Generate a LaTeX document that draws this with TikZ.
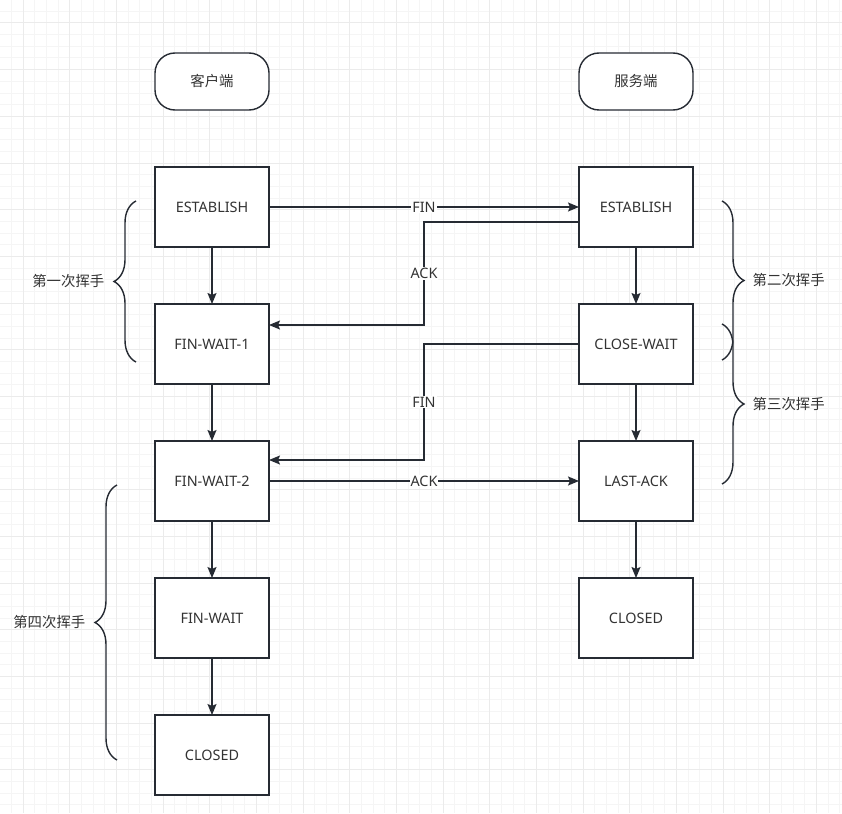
\documentclass[tikz,border=0pt]{standalone}
\usepackage{fontspec}
\setmainfont{Noto Sans}
\newfontfamily\cjk{Noto Sans CJK SC}
\usepackage{xcolor}
\usepackage{tikz}
\usetikzlibrary{arrows.meta,positioning,decorations.pathreplacing}

\definecolor{linec}{HTML}{262B33}
\definecolor{txtc}{HTML}{333333}

\begin{document}
\begin{tikzpicture}[
    x=1pt, y=-1pt,
    font=\fontsize{14.4}{17}\selectfont,
    node distance=57pt and 310pt,
    state/.style={draw=linec, line width=1.4pt, fill=white, minimum width=114pt, minimum height=80pt, inner sep=0pt, outer sep=0pt, text=txtc},
    side/.style={state, rounded corners=20pt, minimum height=57pt, font=\fontsize{14.4}{17}\selectfont\cjk},
    arrow/.style={-{Stealth[length=11pt, width=9pt, inset=2pt]}, draw=linec, line width=1.4pt},
    msg/.style={fill=white, inner sep=1pt, text=txtc},
    brace/.style={decorate, decoration={brace, amplitude=22pt}, draw=linec, line width=1.4pt},
    hs/.style={font=\fontsize{14.4}{17}\selectfont\cjk, text=txtc, inner sep=0pt},
    minorgrid/.style={draw=gray!8, line width=1pt},
    majorgrid/.style={draw=gray!16, line width=1pt}
  ]

  % Page and grid paper
  \useasboundingbox (0,0) rectangle (842,813);
  \fill[white] (0,0) rectangle (842,813);
  \draw[minorgrid, shift={(23,23)}] (-23,-23) grid[step=11.667pt] (819,790);
  \draw[majorgrid, shift={(23,23)}] (-23,-23) grid[step=46.667pt] (819,790);

  % Client side
  \node[side] (client) at (212,81.5) {客户端};
  \node[state, below=of client] (cest) {ESTABLISH};
  \node[state, below=of cest] (fw1) {FIN-WAIT-1};
  \node[state, below=of fw1] (fw2) {FIN-WAIT-2};
  \node[state, below=of fw2] (fwait) {FIN-WAIT};
  \node[state, below=of fwait] (cclosed) {CLOSED};

  % Server side
  \node[side, right=of client] (server) {服务端};
  \node[state, below=of server] (sest) {ESTABLISH};
  \node[state, below=of sest] (cw) {CLOSE-WAIT};
  \node[state, below=of cw] (lack) {LAST-ACK};
  \node[state, below=of lack] (sclosed) {CLOSED};

  % State transitions
  \draw[arrow] (cest) -- (fw1);
  \draw[arrow] (fw1) -- (fw2);
  \draw[arrow] (fw2) -- (fwait);
  \draw[arrow] (fwait) -- (cclosed);
  \draw[arrow] (sest) -- (cw);
  \draw[arrow] (cw) -- (lack);
  \draw[arrow] (lack) -- (sclosed);

  % Messages
  \draw[arrow] (cest) -- node[msg]{FIN} (sest);
  \draw[arrow] ([yshift=-15pt]sest.west) -- ++(-155,0) |- node[msg, pos=0.25]{ACK} ([yshift=19pt]fw1.east);
  \draw[arrow] (cw.west) -- ++(-155,0) |- node[msg, pos=0.25]{FIN} ([yshift=21pt]fw2.east);
  \draw[arrow] (fw2) -- node[msg]{ACK} (lack);

  % Handshake braces
  \draw[brace] (136,362) -- node[hs, left=31pt] (hs1) {第一次挥手} (136,201);
  \draw[brace] (722,201) -- node[hs, right=30pt] (hs2) {第二次挥手} (722,360);
  \draw[brace] (722,324) -- node[hs, right=30pt] (hs3) {第三次挥手} (722,484);
  \draw[brace] (117,760) -- node[hs, left=31pt] (hs4) {第四次挥手} (117,485);

\end{tikzpicture}
\end{document}
